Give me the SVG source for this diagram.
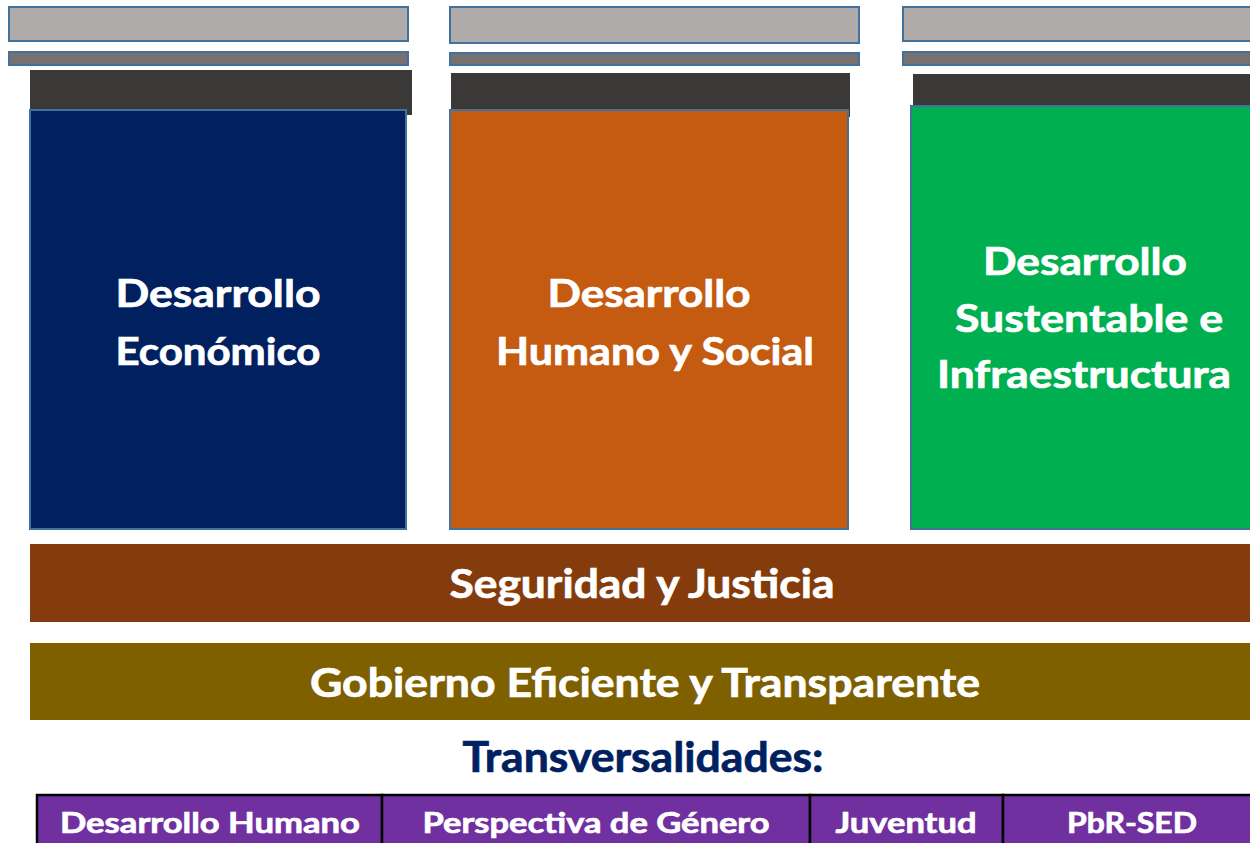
<svg xmlns="http://www.w3.org/2000/svg" width="1250" height="843" viewBox="0 0 1250 843">
<style>
.cap{fill:#AFABAB;stroke:#41719C;stroke-width:2}
.band{fill:#767171;stroke:#41719C;stroke-width:2}
.dark{fill:#3B3838}
.pillar{stroke:#41719C;stroke-width:2}
.t{font-family:Lato,"Open Sans",sans-serif;font-weight:700;fill:#FFFFFF;stroke:#FFFFFF;stroke-width:0.7;text-anchor:middle}
.big{font-size:38px}
.bar{font-size:40px}
.cell{fill:#7030A0;stroke:#000000;stroke-width:2.5}
.ct{font-size:29px}
.navy{fill:#002060;stroke:#002060}
</style>
<rect width="1250" height="843" fill="#FFFFFF"/>
<g id="pilar-economico">
<rect class="cap" x="9" y="7" width="399" height="34"/>
<rect class="band" x="9" y="52" width="399" height="13"/>
<rect class="dark" x="30" y="70" width="382" height="45"/>
<rect class="pillar" x="30" y="110" width="376" height="419" fill="#002060"/>
<text class="t big" x="218" y="307" textLength="205" lengthAdjust="spacingAndGlyphs">Desarrollo</text>
<text class="t big" x="218" y="365" textLength="205" lengthAdjust="spacingAndGlyphs">Económico</text>
</g>
<g id="pilar-humano-social">
<rect class="cap" x="450" y="7" width="409" height="36"/>
<rect class="band" x="450" y="53" width="409" height="12"/>
<rect class="dark" x="451" y="73" width="399" height="44"/>
<rect class="pillar" x="450" y="110" width="398" height="419" fill="#C55A11"/>
<text class="t big" x="649" y="307" textLength="203" lengthAdjust="spacingAndGlyphs">Desarrollo</text>
<text class="t big" x="655" y="365" textLength="318" lengthAdjust="spacingAndGlyphs">Humano y Social</text>
</g>
<g id="pilar-sustentable">
<rect class="cap" x="903" y="7" width="360" height="34"/>
<rect class="band" x="903" y="52" width="360" height="13"/>
<rect class="dark" x="913" y="74" width="350" height="36"/>
<rect class="pillar" x="911" y="106" width="352" height="423" fill="#00B050"/>
<text class="t big" x="1085" y="275" textLength="204" lengthAdjust="spacingAndGlyphs">Desarrollo</text>
<text class="t big" x="1089" y="332" textLength="268" lengthAdjust="spacingAndGlyphs">Sustentable e</text>
<text class="t big" x="1084" y="388" textLength="294" lengthAdjust="spacingAndGlyphs">Infraestructura</text>
</g>
<g id="seguridad-justicia">
<rect x="30" y="544" width="1220" height="78" fill="#843C0C"/>
<text class="t bar" x="642" y="598" textLength="385" lengthAdjust="spacingAndGlyphs">Seguridad y Justicia</text>
</g>
<g id="gobierno-eficiente">
<rect x="30" y="643" width="1220" height="77" fill="#7F6000"/>
<text class="t bar" x="645" y="697" textLength="670" lengthAdjust="spacingAndGlyphs">Gobierno Eficiente y Transparente</text>
</g>
<g id="transversalidades-titulo">
<text class="t navy" x="643" y="772" font-size="42" textLength="361" lengthAdjust="spacingAndGlyphs">Transversalidades:</text>
</g>
<g id="transversalidades">
<g id="t-desarrollo-humano">
<rect class="cell" x="37" y="795" width="345" height="80"/>
<text class="t ct" x="210" y="833" textLength="300" lengthAdjust="spacingAndGlyphs">Desarrollo Humano</text>
</g>
<g id="t-perspectiva-genero">
<rect class="cell" x="382" y="795" width="428" height="80"/>
<text class="t ct" x="596" y="833" textLength="347" lengthAdjust="spacingAndGlyphs">Perspectiva de Género</text>
</g>
<g id="t-juventud">
<rect class="cell" x="810" y="795" width="193" height="80"/>
<text class="t ct" x="906" y="833" textLength="141" lengthAdjust="spacingAndGlyphs">Juventud</text>
</g>
<g id="t-pbr-sed">
<rect class="cell" x="1003" y="795" width="260" height="80"/>
<text class="t ct" x="1132" y="833" textLength="130" lengthAdjust="spacingAndGlyphs">PbR-SED</text>
</g>
</g>
<g id="connectors"/>
</svg>
